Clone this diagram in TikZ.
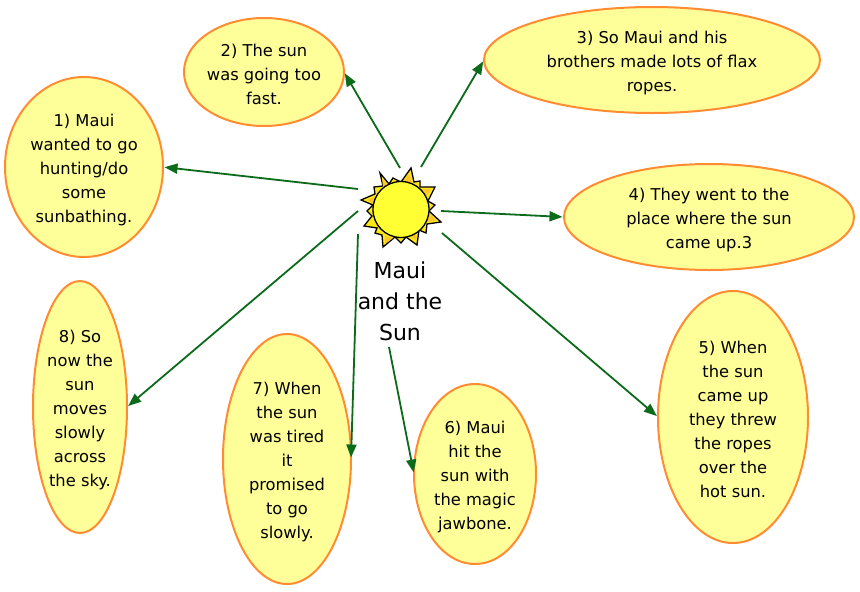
\documentclass[tikz,border=0pt]{standalone}
\usepackage{fontspec}
\setmainfont{DejaVu Sans}
\usetikzlibrary{shapes.geometric,arrows.meta}
\definecolor{bub}{HTML}{FFFF99}
\definecolor{edgeo}{HTML}{FF8C33}
\definecolor{arr}{HTML}{0B6B1A}
\definecolor{rayy}{HTML}{FFE619}
\definecolor{rayo}{HTML}{FFC629}
\definecolor{suny}{HTML}{FFFF33}
\newcommand{\lowerit}{\rule{0pt}{18pt}}
\tikzset{
 bubble/.style={ellipse,draw=edgeo,fill=bub,line width=2pt,inner ysep=0pt,inner xsep=-15pt,outer sep=0pt,align=center,font=\fontsize{16.3}{24}\selectfont},
 link/.style={draw=arr,line width=1.8pt,shorten >=1.5pt,-{Triangle[length=13pt,width=10pt,fill=arr]}},
 ray/.style={draw=black,fill=rayy,line width=1.3pt,line join=miter},
 rayin/.style={fill=rayo,draw=none}
}
\begin{document}
\begin{tikzpicture}[x=1pt,y=-1pt]
\useasboundingbox (0,0) rectangle (860,592);
\fill[white] (0,0) rectangle (860,592);
\node[bubble,minimum width=158pt,minimum height=180pt] (e1) at (84,167) {\lowerit 1) Maui\\wanted to go\\hunting/do\\some\\sunbathing.};
\node[bubble,minimum width=160pt,minimum height=108pt] (e2) at (264,72) {\lowerit 2) The sun\\was going too\\fast.};
\node[bubble,minimum width=336pt,minimum height=106pt] (e3) at (652,60) {\lowerit 3) So Maui and his\\brothers made lots of flax\\ropes.};
\node[bubble,minimum width=290pt,minimum height=106pt] (e4) at (709,217) {\lowerit 4) They went to the\\place where the sun\\came up.3};
\node[bubble,minimum width=150pt,minimum height=252pt] (e5) at (733,417) {\lowerit 5) When\\the sun\\came up\\they threw\\the ropes\\over the\\hot sun.};
\node[bubble,minimum width=122pt,minimum height=180pt] (e6) at (475,474) {\lowerit 6) Maui\\hit the\\sun with\\the magic\\jawbone.};
\node[bubble,minimum width=128pt,minimum height=250pt] (e7) at (287,459) {\lowerit 7) When\\the sun\\was tired\\it\\promised\\to go\\slowly.};
\node[bubble,minimum width=94pt,minimum height=252pt] (e8) at (80,407) {\lowerit 8) So\\now the\\sun\\moves\\slowly\\across\\the sky.};
% sun rays
\path[ray] (380,173)--(389,184)--(393,178)--(401,182)--(411,168)--(414,182)--(420,181)--(420,187)--(435,187)--(428,201)--(435,205)--(429,211)--(441,222)--(427,224)--(426,233)--(419,230)--(417,245)--(406,237)--(401,243)--(395,237)--(383,247)--(382,235)--(375,233)--(377,228)--(364,226)--(372,216)--(367,211)--(373,205)--(361,200)--(375,194)--(374,187)--(383,186)--cycle;
\fill[rayin] (408,174)--(411,178)--(411,183)--(403,182)--cycle;
\fill[rayin] (420,189)--(431,189)--(425,198)--cycle;
\fill[rayin] (430,214)--(437,220)--(427,222)--cycle;
\fill[rayin] (416,232)--(416,240)--(409,235)--cycle;
\fill[rayin] (393,238)--(385,244)--(385,236)--cycle;
\fill[rayin] (367,200)--(374,197)--(374,204)--cycle;
\fill[rayin] (382,178)--(387,185)--(383,187)--cycle;
\node[circle,draw=black,fill=suny,line width=1.3pt,minimum size=56pt,inner sep=0pt,outer sep=0pt] (sun) at (401,209.5) {};
\node[font=\fontsize{22}{31}\selectfont,align=center,inner sep=0pt] (title) at (400,301) {Maui\\and the\\Sun};
\coordinate (s1) at (358,189);
\coordinate (s2) at (400,168);
\coordinate (s3) at (421,167);
\coordinate (s4) at (441,211);
\coordinate (s5) at (442,233);
\coordinate (s6) at (389,347);
\coordinate (s7) at (358,234);
\coordinate (s8) at (358,211);
\draw[link] (s1) -- (e1.0);
\draw[link] (s2) -- (e2.0);
\draw[link] (s3) -- (e3.180);
\draw[link] (s4) -- (e4.180);
\draw[link] (s5) -- (e5.180);
\draw[link] (s6) -- (e6.180);
\draw[link] (s7) -- (e7.0);
\draw[link] (s8) -- (e8.0);
\end{tikzpicture}
\end{document}
